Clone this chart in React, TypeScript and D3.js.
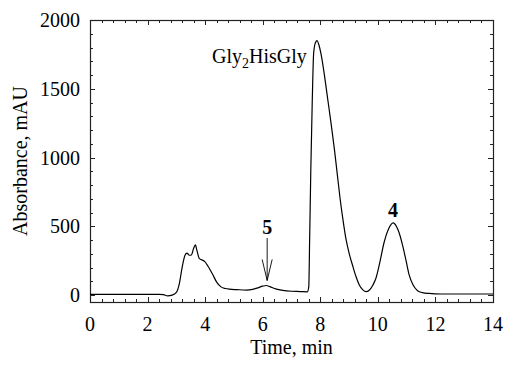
import { useEffect, useRef } from 'react'
import * as d3 from 'd3'

// chromatogram (time in min, absorbance in mAU)
const times = [
  0, 1.2, 2.4, 2.55, 2.7, 2.85, 3.0, 3.1, 3.2, 3.3, 3.37, 3.45, 3.52, 3.6, 3.66, 3.72, 3.8, 3.9, 3.98,
  4.1, 4.25, 4.4, 4.55, 4.7, 4.85, 5.1, 5.43, 5.65, 5.83, 6.0, 6.12, 6.25, 6.45, 6.7, 7.0, 7.3, 7.55,
  7.6, 7.63, 7.67, 7.72, 7.77, 7.83, 7.89, 7.95, 8.03, 8.15, 8.26, 8.38, 8.49, 8.59, 8.69, 8.79, 8.89,
  9.0, 9.12, 9.24, 9.36, 9.48, 9.59, 9.7, 9.82, 9.93, 10.07, 10.22, 10.37, 10.53, 10.7, 10.86, 10.98,
  11.09, 11.22, 11.38, 11.55, 11.78, 12.2, 14,
]
const absorbance = [
  5, 5, 5, 3, -5, 0, 20, 80, 200, 290, 305, 290, 292, 340, 365, 320, 265, 255, 245,
  210, 155, 95, 60, 48, 43, 40, 37, 42, 53, 65, 70, 62, 45, 34, 28, 26, 24,
  60, 400, 900, 1400, 1760, 1835, 1850, 1820, 1748, 1590, 1422, 1240, 1061, 880, 699, 545, 410,
  305, 217, 135, 72, 38, 25, 35, 70, 121, 240, 386, 480, 525, 475, 362, 250,
  145, 75, 32, 18, 12, 8, 8,
]

const xTickLabels = [0, 2, 4, 6, 8, 10, 12, 14]
const yTickLabels = [0, 500, 1000, 1500, 2000]

// peak annotations
const peakLabels = [
  { label: '5', time: 6.12, value: 70 },
  { label: '4', time: 10.53, value: 525 },
]

const App = () => {
  const svgRef = useRef<SVGSVGElement>(null)

  useEffect(() => {
    if (!svgRef.current) return
    const svg = d3.select(svgRef.current)
    svg.selectAll('*').remove()

    const font = '"Liberation Serif", "Times New Roman", serif'
    const left = 90
    const right = 493
    const top = 20
    const bottom = 302

    const x = d3.scaleLinear().domain([0, 14]).range([left, right])
    const y = d3.scaleLinear().domain([-50, 2000]).range([bottom, top])

    const frameColor = '#222'

    // minor + major ticks on all four sides, pointing inward
    const xTicks = d3.range(0, 14.001, 0.4)
    const yTicks = d3.range(0, 2000.1, 100)
    const isMajorX = (t: number) => Math.abs(t / 2 - Math.round(t / 2)) < 1e-6
    const isMajorY = (v: number) => v % 500 === 0

    const ticks = svg.append('g').attr('stroke', frameColor).attr('stroke-width', 1)
    xTicks.forEach((t) => {
      const len = isMajorX(t) ? 5 : 3
      const px = Math.round(x(t)) + 0.5
      ticks.append('line').attr('x1', px).attr('x2', px).attr('y1', bottom).attr('y2', bottom - len)
      ticks.append('line').attr('x1', px).attr('x2', px).attr('y1', top).attr('y2', top + len)
    })
    yTicks.forEach((v) => {
      const len = isMajorY(v) ? 5 : 3
      const py = Math.round(y(v)) + 0.5
      ticks.append('line').attr('x1', left).attr('x2', left + len).attr('y1', py).attr('y2', py)
      ticks.append('line').attr('x1', right).attr('x2', right - len).attr('y1', py).attr('y2', py)
    })

    // frame
    svg
      .append('rect')
      .attr('x', left + 0.5)
      .attr('y', top + 0.5)
      .attr('width', right - left)
      .attr('height', bottom - top)
      .attr('fill', 'none')
      .attr('stroke', frameColor)
      .attr('stroke-width', 1.2)

    // tick labels
    xTickLabels.forEach((t) => {
      svg
        .append('text')
        .attr('x', x(t))
        .attr('y', 331)
        .attr('text-anchor', 'middle')
        .style('font-family', font)
        .style('font-size', '20px')
        .style('fill', '#000')
        .text(t)
    })
    yTickLabels.forEach((v) => {
      svg
        .append('text')
        .attr('x', 80)
        .attr('y', y(v) + 7)
        .attr('text-anchor', 'end')
        .style('font-family', font)
        .style('font-size', '20px')
        .style('fill', '#000')
        .text(v)
    })

    // axis titles
    svg
      .append('text')
      .attr('x', (left + right) / 2)
      .attr('y', 354)
      .attr('text-anchor', 'middle')
      .style('font-family', font)
      .style('font-size', '20px')
      .style('fill', '#000')
      .text('Time, min')

    svg
      .append('text')
      .attr('transform', 'rotate(-90)')
      .attr('x', -161)
      .attr('y', 27)
      .attr('text-anchor', 'middle')
      .style('font-family', font)
      .style('font-size', '20px')
      .style('fill', '#000')
      .text('Absorbance, mAU')

    // trace
    const points = times.map((t, i) => [t, absorbance[i]] as [number, number])
    const line = d3
      .line<[number, number]>()
      .x((d) => x(d[0]))
      .y((d) => y(d[1]))
      .curve(d3.curveMonotoneX)

    svg
      .append('path')
      .datum(points)
      .attr('fill', 'none')
      .attr('stroke', '#000')
      .attr('stroke-width', 1.2)
      .attr('d', line)

    // Gly2HisGly label
    const gly = svg
      .append('text')
      .attr('x', 212)
      .attr('y', 63)
      .style('font-family', font)
      .style('font-size', '20px')
      .style('fill', '#000')
    gly.append('tspan').text('Gly')
    gly.append('tspan').attr('dy', 5).style('font-size', '14px').text('2')
    gly.append('tspan').attr('dy', -5).text('HisGly')

    // peak numbers
    const p5 = peakLabels[0]
    svg
      .append('text')
      .attr('x', x(p5.time) + 1)
      .attr('y', 234)
      .attr('text-anchor', 'middle')
      .style('font-family', font)
      .style('font-size', '20px')
      .style('font-weight', 'bold')
      .style('fill', '#000')
      .text(p5.label)

    // arrow to peak 5
    const ax = x(p5.time) + 1
    const tipY = y(p5.value) - 5
    const arrow = svg.append('g').attr('stroke', '#000').attr('stroke-width', 0.9).attr('fill', 'none')
    arrow.append('line').attr('x1', ax).attr('x2', ax).attr('y1', 238).attr('y2', tipY)
    arrow
      .append('path')
      .attr('d', `M${ax - 5},${tipY - 21}L${ax},${tipY}L${ax + 5},${tipY - 21}`)

    const p4 = peakLabels[1]
    svg
      .append('text')
      .attr('x', x(p4.time))
      .attr('y', 217)
      .attr('text-anchor', 'middle')
      .style('font-family', font)
      .style('font-size', '20px')
      .style('font-weight', 'bold')
      .style('fill', '#000')
      .text(p4.label)
  }, [])

  return (
    <svg
      ref={svgRef}
      width={505}
      height={366}
      style={{ position: 'absolute', left: 0, top: 0, background: '#fff' }}
    />
  )
}

export default App
